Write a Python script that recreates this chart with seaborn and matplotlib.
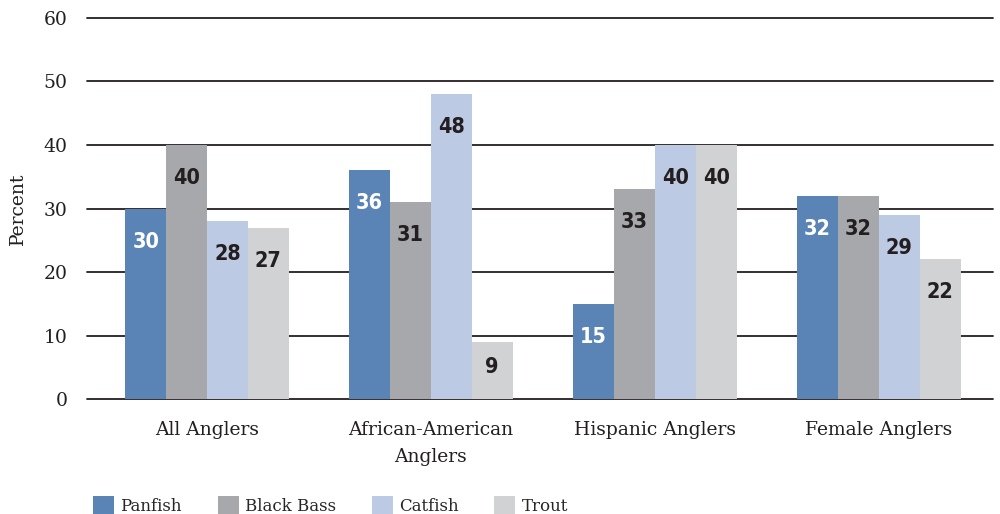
import matplotlib
matplotlib.use("Agg")
import matplotlib.pyplot as plt
import seaborn as sns
import pandas as pd
from matplotlib.patches import Patch

groups = ["All Anglers", "African-American\nAnglers", "Hispanic Anglers", "Female Anglers"]
species = ["Panfish", "Black Bass", "Catfish", "Trout"]
panfish = [30, 36, 15, 32]
black_bass = [40, 31, 33, 32]
catfish = [28, 48, 40, 29]
trout = [27, 9, 40, 22]
y_ticks = [0, 10, 20, 30, 40, 50, 60]

colors = ["#5A84B5", "#A7A8AC", "#BDCAE3", "#D1D2D4"]
label_colors = ["white", "#231F20", "#231F20", "#231F20"]
ink = "#231F20"

series = [panfish, black_bass, catfish, trout]
rows = []
for sp, vals in zip(species, series):
    for g, v in zip(groups, vals):
        rows.append({"group": g, "species": sp, "value": v})
df = pd.DataFrame(rows)

sns.set_theme(style="white")
plt.rcParams["font.family"] = ["DejaVu Serif"]

fig = plt.figure(figsize=(10, 5.14), dpi=100)
ax = fig.add_axes([0.087, 0.2237, 0.906, 0.7413])
ax.set_axisbelow(True)

sns.barplot(data=df, x="group", y="value", hue="species", order=groups,
            hue_order=species, palette=colors, saturation=1, width=0.73,
            legend=False, ax=ax, linewidth=0)

ax.set_ylim(0, 60)
ax.set_xlim(-0.536, 3.51)
ax.set_yticks(y_ticks)
ax.set_yticklabels([str(t) for t in y_ticks], fontsize=13.5, color=ink)
ax.tick_params(axis="x", labelsize=13.5, labelcolor=ink, length=0, pad=16)
ax.tick_params(axis="y", length=0, pad=14)
for lbl in ax.get_xticklabels():
    lbl.set_linespacing(1.6)
ax.yaxis.grid(True, color=ink, linewidth=1.3)
for gl in ax.get_ygridlines():
    gl.set_clip_on(False)
ax.xaxis.grid(False)
for s in ax.spines.values():
    s.set_visible(False)
ax.set_xlabel("")
ax.set_ylabel("Percent", fontsize=13.5, color=ink, labelpad=12)

# value labels inside each bar, below the top edge
px_per_unit = ax.get_window_extent().height / 60.0
for cont, vals, lc in zip(ax.containers, series, label_colors):
    for bar, v in zip(cont, vals):
        h_px = v * px_per_unit
        off = min(33, h_px * 0.44)
        ax.annotate(str(v), (bar.get_x() + bar.get_width() / 2, v),
                    xytext=(0, -off * 72 / 100), textcoords="offset points",
                    ha="center", va="center", color=lc, fontsize=15.5,
                    fontweight="bold", fontstretch="condensed",
                    family=["DejaVu Sans"], zorder=5)

handles = [Patch(facecolor=c, edgecolor="none") for c in colors]
fig.legend(handles, species, loc="lower left", bbox_to_anchor=(0.0865, -0.016),
           ncol=4, frameon=False, fontsize=12, handlelength=1.26,
           handleheight=1.44, handletextpad=0.36, columnspacing=2.16,
           borderaxespad=0.0)

fig.savefig("out.png", dpi=100)
